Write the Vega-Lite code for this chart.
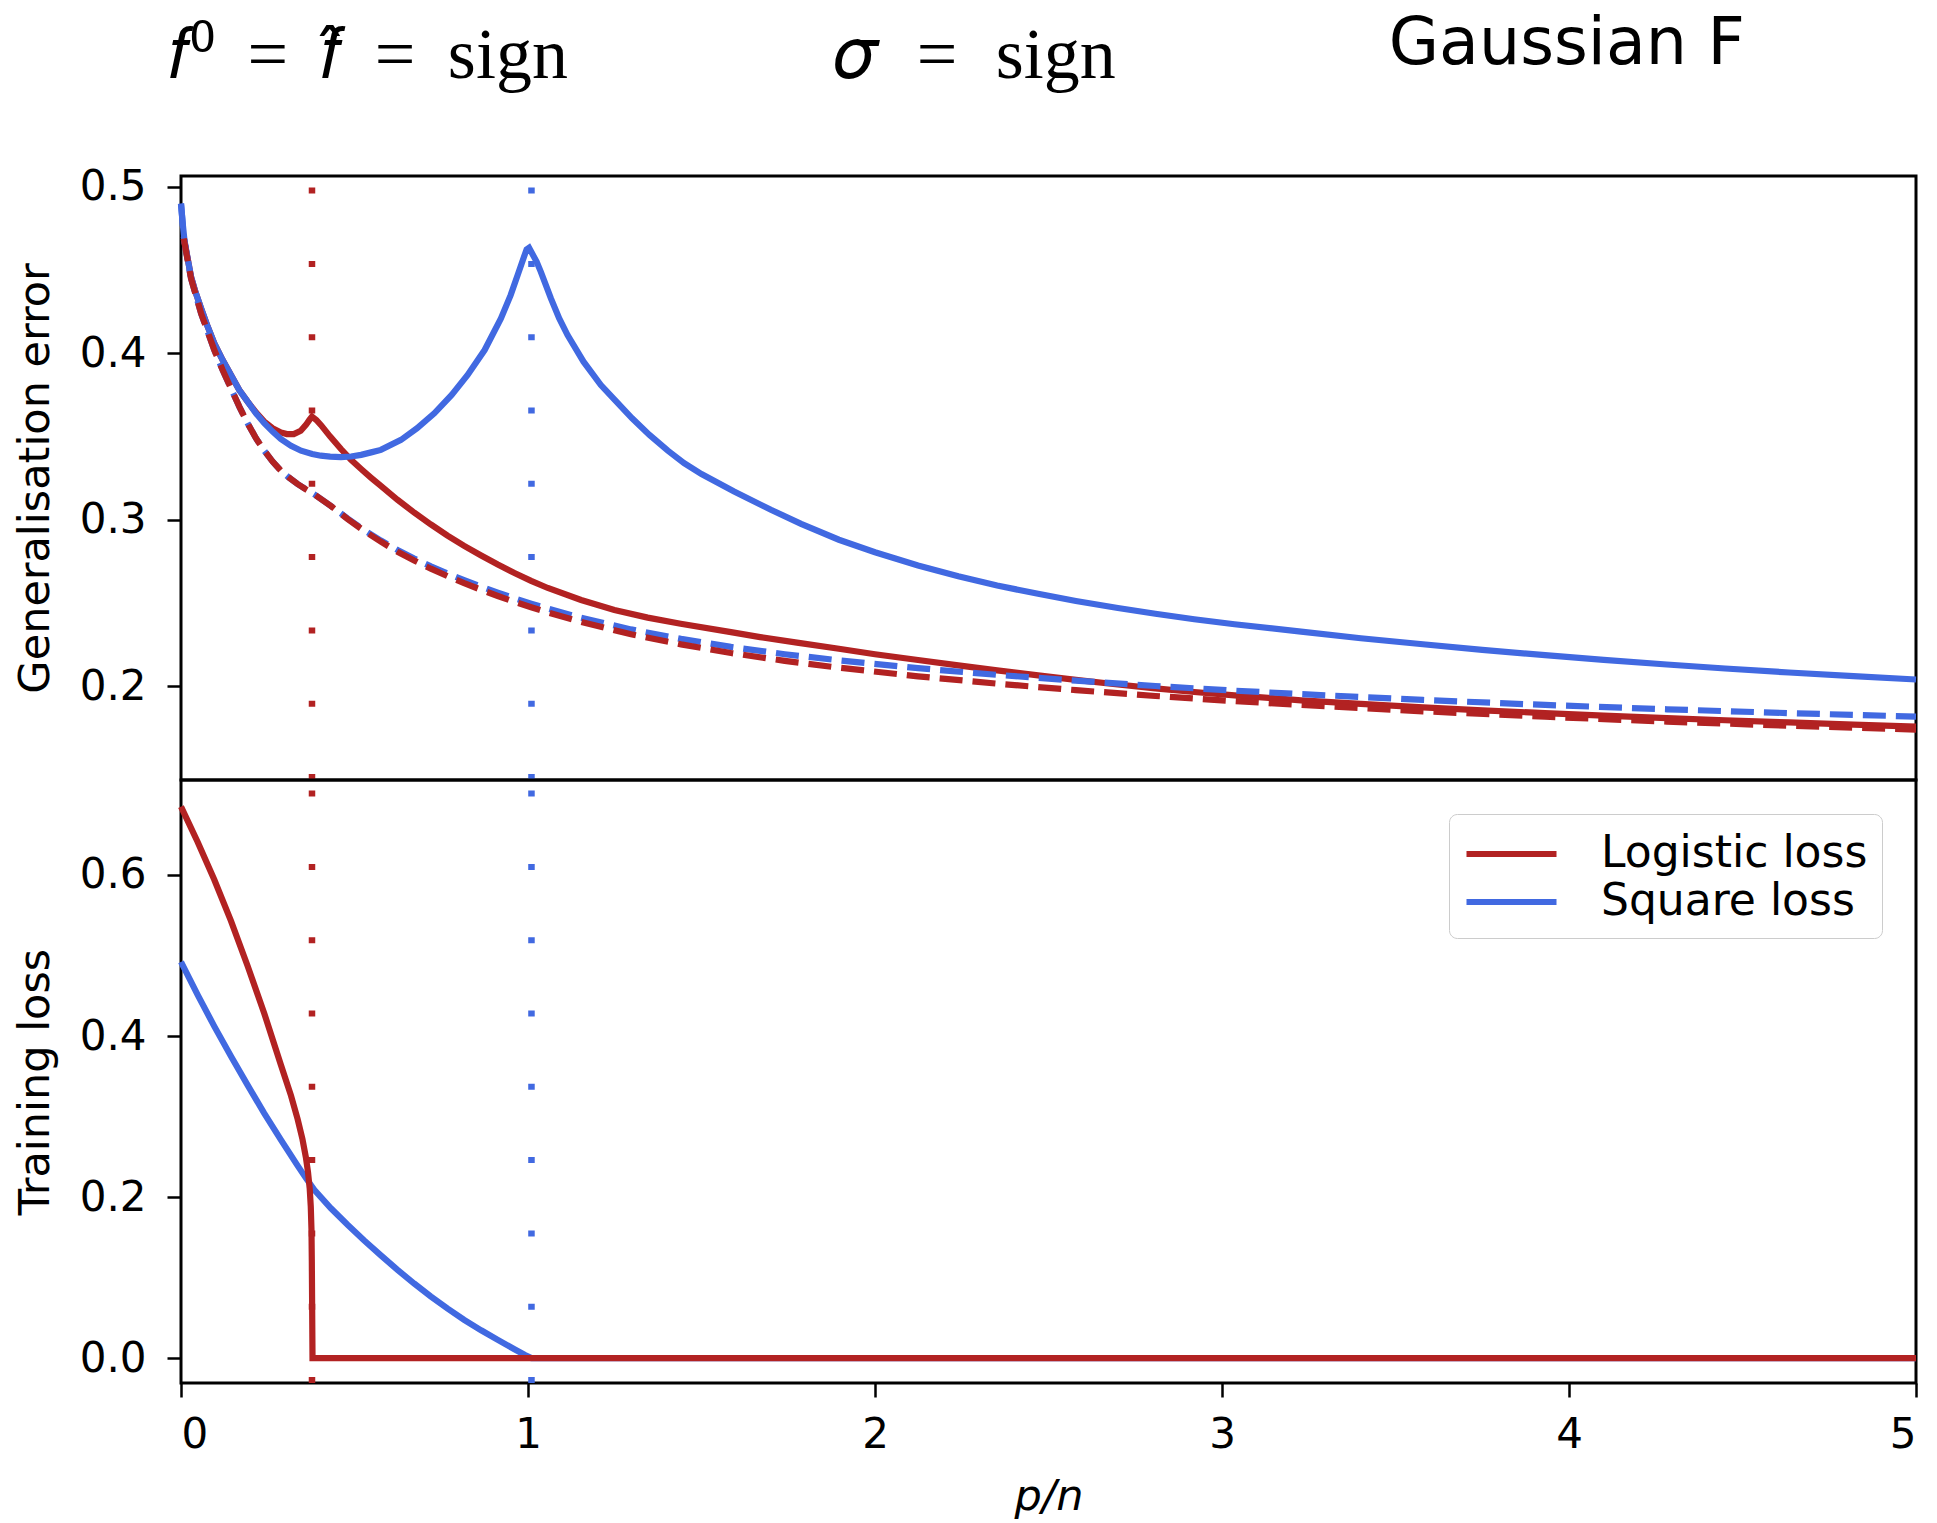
{
  "$schema": "https://vega.github.io/schema/vega-lite/v6.json",
  "background": "white",
  "padding": {"left": 12, "top": 12, "right": 5, "bottom": 0},
  "spacing": 0,
  "bounds": "flush",
  "resolve": {"scale": {"color": "independent"}, "legend": {"color": "independent"}},
  "config": {
    "view": {"stroke": "black", "strokeWidth": 3},
    "axis": {
      "labelFont": "DejaVu Sans", "titleFont": "DejaVu Sans",
      "labelFontSize": 42, "titleFontSize": 43, "titleFontWeight": "normal",
      "labelColor": "black", "titleColor": "black", "tickColor": "black",
      "tickWidth": 2.5, "tickSize": 14, "labelPadding": 21, "domain": false, "grid": false
    },
    "title": {"color": "black", "fontWeight": "normal"}
  },
  "title": {"text": "Gaussian F", "font": "DejaVu Sans", "fontSize": 65, "anchor": "end", "frame": "group", "dx": -171, "dy": 64},
  "datasets": {
    "gen": [
      {"loss": "Square loss", "estimator": "ERM", "pn": 0, "err": 0.49},
      {"loss": "Square loss", "estimator": "ERM", "pn": 0.005, "err": 0.478},
      {"loss": "Square loss", "estimator": "ERM", "pn": 0.01, "err": 0.468},
      {"loss": "Square loss", "estimator": "ERM", "pn": 0.02, "err": 0.456},
      {"loss": "Square loss", "estimator": "ERM", "pn": 0.029, "err": 0.446},
      {"loss": "Square loss", "estimator": "ERM", "pn": 0.04, "err": 0.438},
      {"loss": "Square loss", "estimator": "ERM", "pn": 0.058, "err": 0.427},
      {"loss": "Square loss", "estimator": "ERM", "pn": 0.077, "err": 0.416},
      {"loss": "Square loss", "estimator": "ERM", "pn": 0.096, "err": 0.406},
      {"loss": "Square loss", "estimator": "ERM", "pn": 0.12, "err": 0.396},
      {"loss": "Square loss", "estimator": "ERM", "pn": 0.144, "err": 0.387},
      {"loss": "Square loss", "estimator": "ERM", "pn": 0.168, "err": 0.378},
      {"loss": "Square loss", "estimator": "ERM", "pn": 0.192, "err": 0.371},
      {"loss": "Square loss", "estimator": "ERM", "pn": 0.216, "err": 0.364},
      {"loss": "Square loss", "estimator": "ERM", "pn": 0.24, "err": 0.358},
      {"loss": "Square loss", "estimator": "ERM", "pn": 0.264, "err": 0.353},
      {"loss": "Square loss", "estimator": "ERM", "pn": 0.288, "err": 0.3485},
      {"loss": "Square loss", "estimator": "ERM", "pn": 0.317, "err": 0.3445},
      {"loss": "Square loss", "estimator": "ERM", "pn": 0.346, "err": 0.3415},
      {"loss": "Square loss", "estimator": "ERM", "pn": 0.378, "err": 0.3395},
      {"loss": "Square loss", "estimator": "ERM", "pn": 0.403, "err": 0.3385},
      {"loss": "Square loss", "estimator": "ERM", "pn": 0.43, "err": 0.338},
      {"loss": "Square loss", "estimator": "ERM", "pn": 0.461, "err": 0.3377},
      {"loss": "Square loss", "estimator": "ERM", "pn": 0.49, "err": 0.338},
      {"loss": "Square loss", "estimator": "ERM", "pn": 0.519, "err": 0.339},
      {"loss": "Square loss", "estimator": "ERM", "pn": 0.548, "err": 0.3405},
      {"loss": "Square loss", "estimator": "ERM", "pn": 0.576, "err": 0.342},
      {"loss": "Square loss", "estimator": "ERM", "pn": 0.634, "err": 0.348},
      {"loss": "Square loss", "estimator": "ERM", "pn": 0.68, "err": 0.355},
      {"loss": "Square loss", "estimator": "ERM", "pn": 0.73, "err": 0.364},
      {"loss": "Square loss", "estimator": "ERM", "pn": 0.78, "err": 0.375},
      {"loss": "Square loss", "estimator": "ERM", "pn": 0.826, "err": 0.387},
      {"loss": "Square loss", "estimator": "ERM", "pn": 0.875, "err": 0.402},
      {"loss": "Square loss", "estimator": "ERM", "pn": 0.922, "err": 0.421},
      {"loss": "Square loss", "estimator": "ERM", "pn": 0.95, "err": 0.435},
      {"loss": "Square loss", "estimator": "ERM", "pn": 0.97, "err": 0.447},
      {"loss": "Square loss", "estimator": "ERM", "pn": 0.985, "err": 0.456},
      {"loss": "Square loss", "estimator": "ERM", "pn": 0.996, "err": 0.4625},
      {"loss": "Square loss", "estimator": "ERM", "pn": 1.003, "err": 0.4635},
      {"loss": "Square loss", "estimator": "ERM", "pn": 1.012, "err": 0.46},
      {"loss": "Square loss", "estimator": "ERM", "pn": 1.025, "err": 0.455},
      {"loss": "Square loss", "estimator": "ERM", "pn": 1.037, "err": 0.449},
      {"loss": "Square loss", "estimator": "ERM", "pn": 1.066, "err": 0.433},
      {"loss": "Square loss", "estimator": "ERM", "pn": 1.09, "err": 0.421},
      {"loss": "Square loss", "estimator": "ERM", "pn": 1.114, "err": 0.411},
      {"loss": "Square loss", "estimator": "ERM", "pn": 1.16, "err": 0.395},
      {"loss": "Square loss", "estimator": "ERM", "pn": 1.21, "err": 0.381},
      {"loss": "Square loss", "estimator": "ERM", "pn": 1.25, "err": 0.372},
      {"loss": "Square loss", "estimator": "ERM", "pn": 1.3, "err": 0.361},
      {"loss": "Square loss", "estimator": "ERM", "pn": 1.35, "err": 0.351},
      {"loss": "Square loss", "estimator": "ERM", "pn": 1.403, "err": 0.3415},
      {"loss": "Square loss", "estimator": "ERM", "pn": 1.45, "err": 0.334},
      {"loss": "Square loss", "estimator": "ERM", "pn": 1.5, "err": 0.3275},
      {"loss": "Square loss", "estimator": "ERM", "pn": 1.594, "err": 0.317},
      {"loss": "Square loss", "estimator": "ERM", "pn": 1.7, "err": 0.306},
      {"loss": "Square loss", "estimator": "ERM", "pn": 1.787, "err": 0.2975},
      {"loss": "Square loss", "estimator": "ERM", "pn": 1.896, "err": 0.288},
      {"loss": "Square loss", "estimator": "ERM", "pn": 2.0, "err": 0.2805},
      {"loss": "Square loss", "estimator": "ERM", "pn": 2.124, "err": 0.2725},
      {"loss": "Square loss", "estimator": "ERM", "pn": 2.24, "err": 0.266},
      {"loss": "Square loss", "estimator": "ERM", "pn": 2.352, "err": 0.2605},
      {"loss": "Square loss", "estimator": "ERM", "pn": 2.47, "err": 0.2555},
      {"loss": "Square loss", "estimator": "ERM", "pn": 2.579, "err": 0.2512},
      {"loss": "Square loss", "estimator": "ERM", "pn": 2.7, "err": 0.247},
      {"loss": "Square loss", "estimator": "ERM", "pn": 2.808, "err": 0.2435},
      {"loss": "Square loss", "estimator": "ERM", "pn": 2.92, "err": 0.2402},
      {"loss": "Square loss", "estimator": "ERM", "pn": 3.036, "err": 0.2372},
      {"loss": "Square loss", "estimator": "ERM", "pn": 3.228, "err": 0.2328},
      {"loss": "Square loss", "estimator": "ERM", "pn": 3.4, "err": 0.2288},
      {"loss": "Square loss", "estimator": "ERM", "pn": 3.579, "err": 0.2252},
      {"loss": "Square loss", "estimator": "ERM", "pn": 3.75, "err": 0.2218},
      {"loss": "Square loss", "estimator": "ERM", "pn": 3.931, "err": 0.2186},
      {"loss": "Square loss", "estimator": "ERM", "pn": 4.1, "err": 0.2158},
      {"loss": "Square loss", "estimator": "ERM", "pn": 4.282, "err": 0.213},
      {"loss": "Square loss", "estimator": "ERM", "pn": 4.45, "err": 0.2106},
      {"loss": "Square loss", "estimator": "ERM", "pn": 4.634, "err": 0.2082},
      {"loss": "Square loss", "estimator": "ERM", "pn": 4.82, "err": 0.206},
      {"loss": "Square loss", "estimator": "ERM", "pn": 5.0, "err": 0.204},

      {"loss": "Logistic loss", "estimator": "ERM", "pn": 0.008, "err": 0.469},
      {"loss": "Logistic loss", "estimator": "ERM", "pn": 0.02, "err": 0.456},
      {"loss": "Logistic loss", "estimator": "ERM", "pn": 0.029, "err": 0.446},
      {"loss": "Logistic loss", "estimator": "ERM", "pn": 0.04, "err": 0.438},
      {"loss": "Logistic loss", "estimator": "ERM", "pn": 0.058, "err": 0.427},
      {"loss": "Logistic loss", "estimator": "ERM", "pn": 0.077, "err": 0.416},
      {"loss": "Logistic loss", "estimator": "ERM", "pn": 0.096, "err": 0.406},
      {"loss": "Logistic loss", "estimator": "ERM", "pn": 0.12, "err": 0.396},
      {"loss": "Logistic loss", "estimator": "ERM", "pn": 0.144, "err": 0.387},
      {"loss": "Logistic loss", "estimator": "ERM", "pn": 0.168, "err": 0.378},
      {"loss": "Logistic loss", "estimator": "ERM", "pn": 0.192, "err": 0.371},
      {"loss": "Logistic loss", "estimator": "ERM", "pn": 0.216, "err": 0.3645},
      {"loss": "Logistic loss", "estimator": "ERM", "pn": 0.24, "err": 0.359},
      {"loss": "Logistic loss", "estimator": "ERM", "pn": 0.264, "err": 0.355},
      {"loss": "Logistic loss", "estimator": "ERM", "pn": 0.288, "err": 0.3525},
      {"loss": "Logistic loss", "estimator": "ERM", "pn": 0.305, "err": 0.3515},
      {"loss": "Logistic loss", "estimator": "ERM", "pn": 0.325, "err": 0.3515},
      {"loss": "Logistic loss", "estimator": "ERM", "pn": 0.345, "err": 0.3535},
      {"loss": "Logistic loss", "estimator": "ERM", "pn": 0.36, "err": 0.357},
      {"loss": "Logistic loss", "estimator": "ERM", "pn": 0.37, "err": 0.36},
      {"loss": "Logistic loss", "estimator": "ERM", "pn": 0.3775, "err": 0.362},
      {"loss": "Logistic loss", "estimator": "ERM", "pn": 0.39, "err": 0.36},
      {"loss": "Logistic loss", "estimator": "ERM", "pn": 0.403, "err": 0.357},
      {"loss": "Logistic loss", "estimator": "ERM", "pn": 0.43, "err": 0.35},
      {"loss": "Logistic loss", "estimator": "ERM", "pn": 0.461, "err": 0.3425},
      {"loss": "Logistic loss", "estimator": "ERM", "pn": 0.49, "err": 0.336},
      {"loss": "Logistic loss", "estimator": "ERM", "pn": 0.519, "err": 0.3305},
      {"loss": "Logistic loss", "estimator": "ERM", "pn": 0.548, "err": 0.3252},
      {"loss": "Logistic loss", "estimator": "ERM", "pn": 0.576, "err": 0.3203},
      {"loss": "Logistic loss", "estimator": "ERM", "pn": 0.624, "err": 0.312},
      {"loss": "Logistic loss", "estimator": "ERM", "pn": 0.672, "err": 0.3043},
      {"loss": "Logistic loss", "estimator": "ERM", "pn": 0.72, "err": 0.2972},
      {"loss": "Logistic loss", "estimator": "ERM", "pn": 0.768, "err": 0.2905},
      {"loss": "Logistic loss", "estimator": "ERM", "pn": 0.816, "err": 0.2843},
      {"loss": "Logistic loss", "estimator": "ERM", "pn": 0.865, "err": 0.2785},
      {"loss": "Logistic loss", "estimator": "ERM", "pn": 0.913, "err": 0.2731},
      {"loss": "Logistic loss", "estimator": "ERM", "pn": 0.961, "err": 0.268},
      {"loss": "Logistic loss", "estimator": "ERM", "pn": 1.009, "err": 0.2633},
      {"loss": "Logistic loss", "estimator": "ERM", "pn": 1.057, "err": 0.259},
      {"loss": "Logistic loss", "estimator": "ERM", "pn": 1.153, "err": 0.2518},
      {"loss": "Logistic loss", "estimator": "ERM", "pn": 1.249, "err": 0.2458},
      {"loss": "Logistic loss", "estimator": "ERM", "pn": 1.345, "err": 0.2412},
      {"loss": "Logistic loss", "estimator": "ERM", "pn": 1.44, "err": 0.2375},
      {"loss": "Logistic loss", "estimator": "ERM", "pn": 1.585, "err": 0.2325},
      {"loss": "Logistic loss", "estimator": "ERM", "pn": 1.669, "err": 0.2295},
      {"loss": "Logistic loss", "estimator": "ERM", "pn": 1.78, "err": 0.226},
      {"loss": "Logistic loss", "estimator": "ERM", "pn": 1.896, "err": 0.2225},
      {"loss": "Logistic loss", "estimator": "ERM", "pn": 2.0, "err": 0.2192},
      {"loss": "Logistic loss", "estimator": "ERM", "pn": 2.124, "err": 0.2157},
      {"loss": "Logistic loss", "estimator": "ERM", "pn": 2.24, "err": 0.2125},
      {"loss": "Logistic loss", "estimator": "ERM", "pn": 2.352, "err": 0.2095},
      {"loss": "Logistic loss", "estimator": "ERM", "pn": 2.47, "err": 0.2065},
      {"loss": "Logistic loss", "estimator": "ERM", "pn": 2.579, "err": 0.2038},
      {"loss": "Logistic loss", "estimator": "ERM", "pn": 2.7, "err": 0.201},
      {"loss": "Logistic loss", "estimator": "ERM", "pn": 2.808, "err": 0.1987},
      {"loss": "Logistic loss", "estimator": "ERM", "pn": 2.92, "err": 0.1965},
      {"loss": "Logistic loss", "estimator": "ERM", "pn": 3.036, "err": 0.1945},
      {"loss": "Logistic loss", "estimator": "ERM", "pn": 3.228, "err": 0.1915},
      {"loss": "Logistic loss", "estimator": "ERM", "pn": 3.4, "err": 0.1893},
      {"loss": "Logistic loss", "estimator": "ERM", "pn": 3.579, "err": 0.1873},
      {"loss": "Logistic loss", "estimator": "ERM", "pn": 3.75, "err": 0.1855},
      {"loss": "Logistic loss", "estimator": "ERM", "pn": 3.931, "err": 0.1838},
      {"loss": "Logistic loss", "estimator": "ERM", "pn": 4.1, "err": 0.1823},
      {"loss": "Logistic loss", "estimator": "ERM", "pn": 4.282, "err": 0.1808},
      {"loss": "Logistic loss", "estimator": "ERM", "pn": 4.45, "err": 0.1795},
      {"loss": "Logistic loss", "estimator": "ERM", "pn": 4.634, "err": 0.1782},
      {"loss": "Logistic loss", "estimator": "ERM", "pn": 4.82, "err": 0.1769},
      {"loss": "Logistic loss", "estimator": "ERM", "pn": 5.0, "err": 0.1757},

      {"loss": "Square loss", "estimator": "Bayes", "pn": 0, "err": 0.49},
      {"loss": "Square loss", "estimator": "Bayes", "pn": 0.004, "err": 0.48},
      {"loss": "Square loss", "estimator": "Bayes", "pn": 0.008, "err": 0.47},
      {"loss": "Square loss", "estimator": "Bayes", "pn": 0.02, "err": 0.455},
      {"loss": "Square loss", "estimator": "Bayes", "pn": 0.029, "err": 0.445},
      {"loss": "Square loss", "estimator": "Bayes", "pn": 0.04, "err": 0.437},
      {"loss": "Square loss", "estimator": "Bayes", "pn": 0.058, "err": 0.424},
      {"loss": "Square loss", "estimator": "Bayes", "pn": 0.077, "err": 0.413},
      {"loss": "Square loss", "estimator": "Bayes", "pn": 0.096, "err": 0.402},
      {"loss": "Square loss", "estimator": "Bayes", "pn": 0.12, "err": 0.39},
      {"loss": "Square loss", "estimator": "Bayes", "pn": 0.144, "err": 0.379},
      {"loss": "Square loss", "estimator": "Bayes", "pn": 0.168, "err": 0.368},
      {"loss": "Square loss", "estimator": "Bayes", "pn": 0.192, "err": 0.358},
      {"loss": "Square loss", "estimator": "Bayes", "pn": 0.216, "err": 0.349},
      {"loss": "Square loss", "estimator": "Bayes", "pn": 0.24, "err": 0.3415},
      {"loss": "Square loss", "estimator": "Bayes", "pn": 0.264, "err": 0.335},
      {"loss": "Square loss", "estimator": "Bayes", "pn": 0.288, "err": 0.3295},
      {"loss": "Square loss", "estimator": "Bayes", "pn": 0.312, "err": 0.3252},
      {"loss": "Square loss", "estimator": "Bayes", "pn": 0.336, "err": 0.3215},
      {"loss": "Square loss", "estimator": "Bayes", "pn": 0.36, "err": 0.3183},
      {"loss": "Square loss", "estimator": "Bayes", "pn": 0.384, "err": 0.3153},
      {"loss": "Square loss", "estimator": "Bayes", "pn": 0.432, "err": 0.3083},
      {"loss": "Square loss", "estimator": "Bayes", "pn": 0.48, "err": 0.3008},
      {"loss": "Square loss", "estimator": "Bayes", "pn": 0.528, "err": 0.2938},
      {"loss": "Square loss", "estimator": "Bayes", "pn": 0.576, "err": 0.2875},
      {"loss": "Square loss", "estimator": "Bayes", "pn": 0.624, "err": 0.2818},
      {"loss": "Square loss", "estimator": "Bayes", "pn": 0.672, "err": 0.2767},
      {"loss": "Square loss", "estimator": "Bayes", "pn": 0.72, "err": 0.272},
      {"loss": "Square loss", "estimator": "Bayes", "pn": 0.768, "err": 0.2677},
      {"loss": "Square loss", "estimator": "Bayes", "pn": 0.816, "err": 0.2637},
      {"loss": "Square loss", "estimator": "Bayes", "pn": 0.865, "err": 0.2598},
      {"loss": "Square loss", "estimator": "Bayes", "pn": 0.913, "err": 0.2562},
      {"loss": "Square loss", "estimator": "Bayes", "pn": 0.961, "err": 0.2528},
      {"loss": "Square loss", "estimator": "Bayes", "pn": 1.009, "err": 0.2496},
      {"loss": "Square loss", "estimator": "Bayes", "pn": 1.057, "err": 0.2466},
      {"loss": "Square loss", "estimator": "Bayes", "pn": 1.153, "err": 0.2411},
      {"loss": "Square loss", "estimator": "Bayes", "pn": 1.297, "err": 0.2341},
      {"loss": "Square loss", "estimator": "Bayes", "pn": 1.441, "err": 0.2284},
      {"loss": "Square loss", "estimator": "Bayes", "pn": 1.585, "err": 0.2236},
      {"loss": "Square loss", "estimator": "Bayes", "pn": 1.74, "err": 0.2192},
      {"loss": "Square loss", "estimator": "Bayes", "pn": 1.896, "err": 0.2155},
      {"loss": "Square loss", "estimator": "Bayes", "pn": 2.124, "err": 0.2108},
      {"loss": "Square loss", "estimator": "Bayes", "pn": 2.352, "err": 0.2068},
      {"loss": "Square loss", "estimator": "Bayes", "pn": 2.579, "err": 0.2033},
      {"loss": "Square loss", "estimator": "Bayes", "pn": 2.808, "err": 0.2001},
      {"loss": "Square loss", "estimator": "Bayes", "pn": 3.036, "err": 0.1973},
      {"loss": "Square loss", "estimator": "Bayes", "pn": 3.228, "err": 0.1952},
      {"loss": "Square loss", "estimator": "Bayes", "pn": 3.579, "err": 0.1917},
      {"loss": "Square loss", "estimator": "Bayes", "pn": 3.931, "err": 0.1887},
      {"loss": "Square loss", "estimator": "Bayes", "pn": 4.282, "err": 0.1861},
      {"loss": "Square loss", "estimator": "Bayes", "pn": 4.634, "err": 0.1838},
      {"loss": "Square loss", "estimator": "Bayes", "pn": 5.0, "err": 0.1817},

      {"loss": "Logistic loss", "estimator": "Bayes", "pn": 0.008, "err": 0.469},
      {"loss": "Logistic loss", "estimator": "Bayes", "pn": 0.02, "err": 0.455},
      {"loss": "Logistic loss", "estimator": "Bayes", "pn": 0.029, "err": 0.445},
      {"loss": "Logistic loss", "estimator": "Bayes", "pn": 0.04, "err": 0.437},
      {"loss": "Logistic loss", "estimator": "Bayes", "pn": 0.058, "err": 0.424},
      {"loss": "Logistic loss", "estimator": "Bayes", "pn": 0.077, "err": 0.413},
      {"loss": "Logistic loss", "estimator": "Bayes", "pn": 0.096, "err": 0.402},
      {"loss": "Logistic loss", "estimator": "Bayes", "pn": 0.12, "err": 0.39},
      {"loss": "Logistic loss", "estimator": "Bayes", "pn": 0.144, "err": 0.379},
      {"loss": "Logistic loss", "estimator": "Bayes", "pn": 0.168, "err": 0.368},
      {"loss": "Logistic loss", "estimator": "Bayes", "pn": 0.192, "err": 0.358},
      {"loss": "Logistic loss", "estimator": "Bayes", "pn": 0.216, "err": 0.349},
      {"loss": "Logistic loss", "estimator": "Bayes", "pn": 0.24, "err": 0.3415},
      {"loss": "Logistic loss", "estimator": "Bayes", "pn": 0.264, "err": 0.335},
      {"loss": "Logistic loss", "estimator": "Bayes", "pn": 0.288, "err": 0.3295},
      {"loss": "Logistic loss", "estimator": "Bayes", "pn": 0.312, "err": 0.3252},
      {"loss": "Logistic loss", "estimator": "Bayes", "pn": 0.336, "err": 0.3215},
      {"loss": "Logistic loss", "estimator": "Bayes", "pn": 0.36, "err": 0.3183},
      {"loss": "Logistic loss", "estimator": "Bayes", "pn": 0.384, "err": 0.3153},
      {"loss": "Logistic loss", "estimator": "Bayes", "pn": 0.432, "err": 0.3083},
      {"loss": "Logistic loss", "estimator": "Bayes", "pn": 0.48, "err": 0.3005},
      {"loss": "Logistic loss", "estimator": "Bayes", "pn": 0.528, "err": 0.2933},
      {"loss": "Logistic loss", "estimator": "Bayes", "pn": 0.576, "err": 0.2868},
      {"loss": "Logistic loss", "estimator": "Bayes", "pn": 0.624, "err": 0.2808},
      {"loss": "Logistic loss", "estimator": "Bayes", "pn": 0.672, "err": 0.2755},
      {"loss": "Logistic loss", "estimator": "Bayes", "pn": 0.72, "err": 0.2706},
      {"loss": "Logistic loss", "estimator": "Bayes", "pn": 0.768, "err": 0.2661},
      {"loss": "Logistic loss", "estimator": "Bayes", "pn": 0.816, "err": 0.2619},
      {"loss": "Logistic loss", "estimator": "Bayes", "pn": 0.865, "err": 0.2579},
      {"loss": "Logistic loss", "estimator": "Bayes", "pn": 0.913, "err": 0.2542},
      {"loss": "Logistic loss", "estimator": "Bayes", "pn": 0.961, "err": 0.2507},
      {"loss": "Logistic loss", "estimator": "Bayes", "pn": 1.009, "err": 0.2474},
      {"loss": "Logistic loss", "estimator": "Bayes", "pn": 1.057, "err": 0.2443},
      {"loss": "Logistic loss", "estimator": "Bayes", "pn": 1.153, "err": 0.2386},
      {"loss": "Logistic loss", "estimator": "Bayes", "pn": 1.297, "err": 0.2312},
      {"loss": "Logistic loss", "estimator": "Bayes", "pn": 1.441, "err": 0.2251},
      {"loss": "Logistic loss", "estimator": "Bayes", "pn": 1.585, "err": 0.2199},
      {"loss": "Logistic loss", "estimator": "Bayes", "pn": 1.74, "err": 0.2152},
      {"loss": "Logistic loss", "estimator": "Bayes", "pn": 1.896, "err": 0.2111},
      {"loss": "Logistic loss", "estimator": "Bayes", "pn": 2.124, "err": 0.2059},
      {"loss": "Logistic loss", "estimator": "Bayes", "pn": 2.352, "err": 0.2015},
      {"loss": "Logistic loss", "estimator": "Bayes", "pn": 2.579, "err": 0.1976},
      {"loss": "Logistic loss", "estimator": "Bayes", "pn": 2.808, "err": 0.1941},
      {"loss": "Logistic loss", "estimator": "Bayes", "pn": 3.036, "err": 0.191},
      {"loss": "Logistic loss", "estimator": "Bayes", "pn": 3.228, "err": 0.1887},
      {"loss": "Logistic loss", "estimator": "Bayes", "pn": 3.579, "err": 0.1849},
      {"loss": "Logistic loss", "estimator": "Bayes", "pn": 3.931, "err": 0.1816},
      {"loss": "Logistic loss", "estimator": "Bayes", "pn": 4.282, "err": 0.1787},
      {"loss": "Logistic loss", "estimator": "Bayes", "pn": 4.634, "err": 0.1762},
      {"loss": "Logistic loss", "estimator": "Bayes", "pn": 5.0, "err": 0.1739}
    ],
    "train": [
      {"loss": "Square loss", "pn": 0, "tl": 0.492},
      {"loss": "Square loss", "pn": 0.048, "tl": 0.451},
      {"loss": "Square loss", "pn": 0.096, "tl": 0.412},
      {"loss": "Square loss", "pn": 0.144, "tl": 0.375},
      {"loss": "Square loss", "pn": 0.192, "tl": 0.339},
      {"loss": "Square loss", "pn": 0.24, "tl": 0.304},
      {"loss": "Square loss", "pn": 0.288, "tl": 0.271},
      {"loss": "Square loss", "pn": 0.336, "tl": 0.239},
      {"loss": "Square loss", "pn": 0.36, "tl": 0.2235},
      {"loss": "Square loss", "pn": 0.384, "tl": 0.209},
      {"loss": "Square loss", "pn": 0.432, "tl": 0.186},
      {"loss": "Square loss", "pn": 0.48, "tl": 0.1655},
      {"loss": "Square loss", "pn": 0.528, "tl": 0.146},
      {"loss": "Square loss", "pn": 0.576, "tl": 0.1275},
      {"loss": "Square loss", "pn": 0.624, "tl": 0.1095},
      {"loss": "Square loss", "pn": 0.672, "tl": 0.0925},
      {"loss": "Square loss", "pn": 0.72, "tl": 0.0765},
      {"loss": "Square loss", "pn": 0.768, "tl": 0.0615},
      {"loss": "Square loss", "pn": 0.816, "tl": 0.0475},
      {"loss": "Square loss", "pn": 0.865, "tl": 0.0345},
      {"loss": "Square loss", "pn": 0.913, "tl": 0.0225},
      {"loss": "Square loss", "pn": 0.961, "tl": 0.011},
      {"loss": "Square loss", "pn": 0.99, "tl": 0.004},
      {"loss": "Square loss", "pn": 1.01, "tl": 0.0},
      {"loss": "Square loss", "pn": 5.0, "tl": 0.0},
      {"loss": "Logistic loss", "pn": 0, "tl": 0.685},
      {"loss": "Logistic loss", "pn": 0.048, "tl": 0.641},
      {"loss": "Logistic loss", "pn": 0.096, "tl": 0.594},
      {"loss": "Logistic loss", "pn": 0.144, "tl": 0.543},
      {"loss": "Logistic loss", "pn": 0.192, "tl": 0.487},
      {"loss": "Logistic loss", "pn": 0.24, "tl": 0.428},
      {"loss": "Logistic loss", "pn": 0.288, "tl": 0.364},
      {"loss": "Logistic loss", "pn": 0.317, "tl": 0.326},
      {"loss": "Logistic loss", "pn": 0.336, "tl": 0.297},
      {"loss": "Logistic loss", "pn": 0.35, "tl": 0.272},
      {"loss": "Logistic loss", "pn": 0.36, "tl": 0.249},
      {"loss": "Logistic loss", "pn": 0.366, "tl": 0.231},
      {"loss": "Logistic loss", "pn": 0.371, "tl": 0.21},
      {"loss": "Logistic loss", "pn": 0.374, "tl": 0.188},
      {"loss": "Logistic loss", "pn": 0.376, "tl": 0.16},
      {"loss": "Logistic loss", "pn": 0.377, "tl": 0.12},
      {"loss": "Logistic loss", "pn": 0.378, "tl": 0.06},
      {"loss": "Logistic loss", "pn": 0.379, "tl": 0.0},
      {"loss": "Logistic loss", "pn": 5.0, "tl": 0.0}
    ],
    "thresholds": [
      {"loss": "Logistic loss", "pn": 0.3775},
      {"loss": "Square loss", "pn": 1.01}
    ]
  },
  "vconcat": [
    {
      "width": 1735,
      "height": 604,
      "title": {"text": "\ud835\udc53\u2070\u2005\u2009=\u2005\u2009\ud835\udc53\u0302\u2005\u2009=\u2005\u2009sign\u2003\u2003\u2003\u2002\u2009\ud835\udf0e\u2004\u2009=\u2004\u2009sign", "font": "Liberation Serif", "fontSize": 72, "anchor": "start", "frame": "group", "dx": -13, "offset": 73},
      "layer": [
        {
          "data": {"name": "thresholds"},
          "transform": [{"filter": "datum.loss === 'Logistic loss'"}],
          "mark": {"type": "rule", "color": "#B22222", "strokeWidth": 6.5, "strokeDash": [6, 67.3]},
          "encoding": {
            "x": {"field": "pn", "type": "quantitative", "scale": {"domain": [0, 5], "nice": false, "zero": false}, "axis": null},
            "y": {"datum": 0.1436, "type": "quantitative"},
            "y2": {"datum": 0.5066}
          }
        },
        {
          "data": {"name": "thresholds"},
          "transform": [{"filter": "datum.loss === 'Square loss'"}],
          "mark": {"type": "rule", "color": "#4169E1", "strokeWidth": 6.5, "strokeDash": [6, 67.3]},
          "encoding": {
            "x": {"field": "pn", "type": "quantitative"},
            "y": {"datum": 0.1436, "type": "quantitative"},
            "y2": {"datum": 0.5066}
          }
        },
        {
          "data": {"name": "gen"},
          "transform": [{"filter": "datum.loss === 'Logistic loss' && datum.estimator === 'ERM'"}],
          "mark": {"type": "line", "color": "#B22222", "strokeWidth": 6.2},
          "encoding": {
            "x": {"field": "pn", "type": "quantitative"},
            "y": {"field": "err", "type": "quantitative", "scale": {"domain": [0.1436, 0.5066], "nice": false, "zero": false},
                  "axis": {"values": [0.2, 0.3, 0.4, 0.5], "format": ".1f", "title": "Generalisation error", "titlePadding": 22}}
          }
        },
        {
          "data": {"name": "gen"},
          "transform": [{"filter": "datum.loss === 'Square loss' && datum.estimator === 'ERM'"}],
          "mark": {"type": "line", "color": "#4169E1", "strokeWidth": 6.2},
          "encoding": {
            "x": {"field": "pn", "type": "quantitative"},
            "y": {"field": "err", "type": "quantitative"}
          }
        },
        {
          "data": {"name": "gen"},
          "transform": [{"filter": "datum.loss === 'Square loss' && datum.estimator === 'Bayes'"}],
          "mark": {"type": "line", "color": "#4169E1", "strokeWidth": 6.2, "strokeDash": [23, 10]},
          "encoding": {
            "x": {"field": "pn", "type": "quantitative"},
            "y": {"field": "err", "type": "quantitative"}
          }
        },
        {
          "data": {"name": "gen"},
          "transform": [{"filter": "datum.loss === 'Logistic loss' && datum.estimator === 'Bayes'"}],
          "mark": {"type": "line", "color": "#B22222", "strokeWidth": 6.2, "strokeDash": [23, 10]},
          "encoding": {
            "x": {"field": "pn", "type": "quantitative"},
            "y": {"field": "err", "type": "quantitative"}
          }
        }
      ]
    },
    {
      "width": 1735,
      "height": 603,
      "layer": [
        {
          "data": {"name": "thresholds"},
          "transform": [{"filter": "datum.loss === 'Logistic loss'"}],
          "mark": {"type": "rule", "color": "#B22222", "strokeWidth": 6.5, "strokeDash": [6, 67.3]},
          "encoding": {
            "x": {"field": "pn", "type": "quantitative", "scale": {"domain": [0, 5], "nice": false, "zero": false},
                  "axis": {"values": [0, 1, 2, 3, 4, 5], "format": "d", "title": "p/n", "titleFontStyle": "italic", "labelPadding": 17, "titlePadding": 20}},
            "y": {"datum": -0.031, "type": "quantitative"},
            "y2": {"datum": 0.718}
          }
        },
        {
          "data": {"name": "thresholds"},
          "transform": [{"filter": "datum.loss === 'Square loss'"}],
          "mark": {"type": "rule", "color": "#4169E1", "strokeWidth": 6.5, "strokeDash": [6, 67.3]},
          "encoding": {
            "x": {"field": "pn", "type": "quantitative"},
            "y": {"datum": -0.031, "type": "quantitative"},
            "y2": {"datum": 0.718}
          }
        },
        {
          "data": {"name": "train"},
          "transform": [{"filter": "datum.loss === 'Square loss'"}],
          "mark": {"type": "line", "strokeWidth": 6.2},
          "encoding": {
            "x": {"field": "pn", "type": "quantitative"},
            "y": {"field": "tl", "type": "quantitative", "scale": {"domain": [-0.031, 0.718], "nice": false, "zero": false},
                  "axis": {"values": [0, 0.2, 0.4, 0.6], "format": ".1f", "title": "Training loss", "titlePadding": 22}},
            "color": {"field": "loss", "type": "nominal",
                      "scale": {"domain": ["Logistic loss", "Square loss"], "range": ["#B22222", "#4169E1"]},
                      "legend": {"title": null, "orient": "top-right", "offset": 34, "symbolType": "M-1,0H3", "symbolSize": 2025,
                                 "symbolStrokeWidth": 6.2, "labelFont": "DejaVu Sans", "labelFontSize": 44, "labelColor": "black",
                                 "labelLimit": 600, "labelOffset": 86, "padding": 14, "rowPadding": 0, "strokeColor": "#cccccc",
                                 "fillColor": "white", "cornerRadius": 8}}
          }
        },
        {
          "data": {"name": "train"},
          "transform": [{"filter": "datum.loss === 'Logistic loss'"}],
          "mark": {"type": "line", "strokeWidth": 6.2},
          "encoding": {
            "x": {"field": "pn", "type": "quantitative"},
            "y": {"field": "tl", "type": "quantitative"},
            "color": {"field": "loss", "type": "nominal"}
          }
        }
      ]
    }
  ]
}
